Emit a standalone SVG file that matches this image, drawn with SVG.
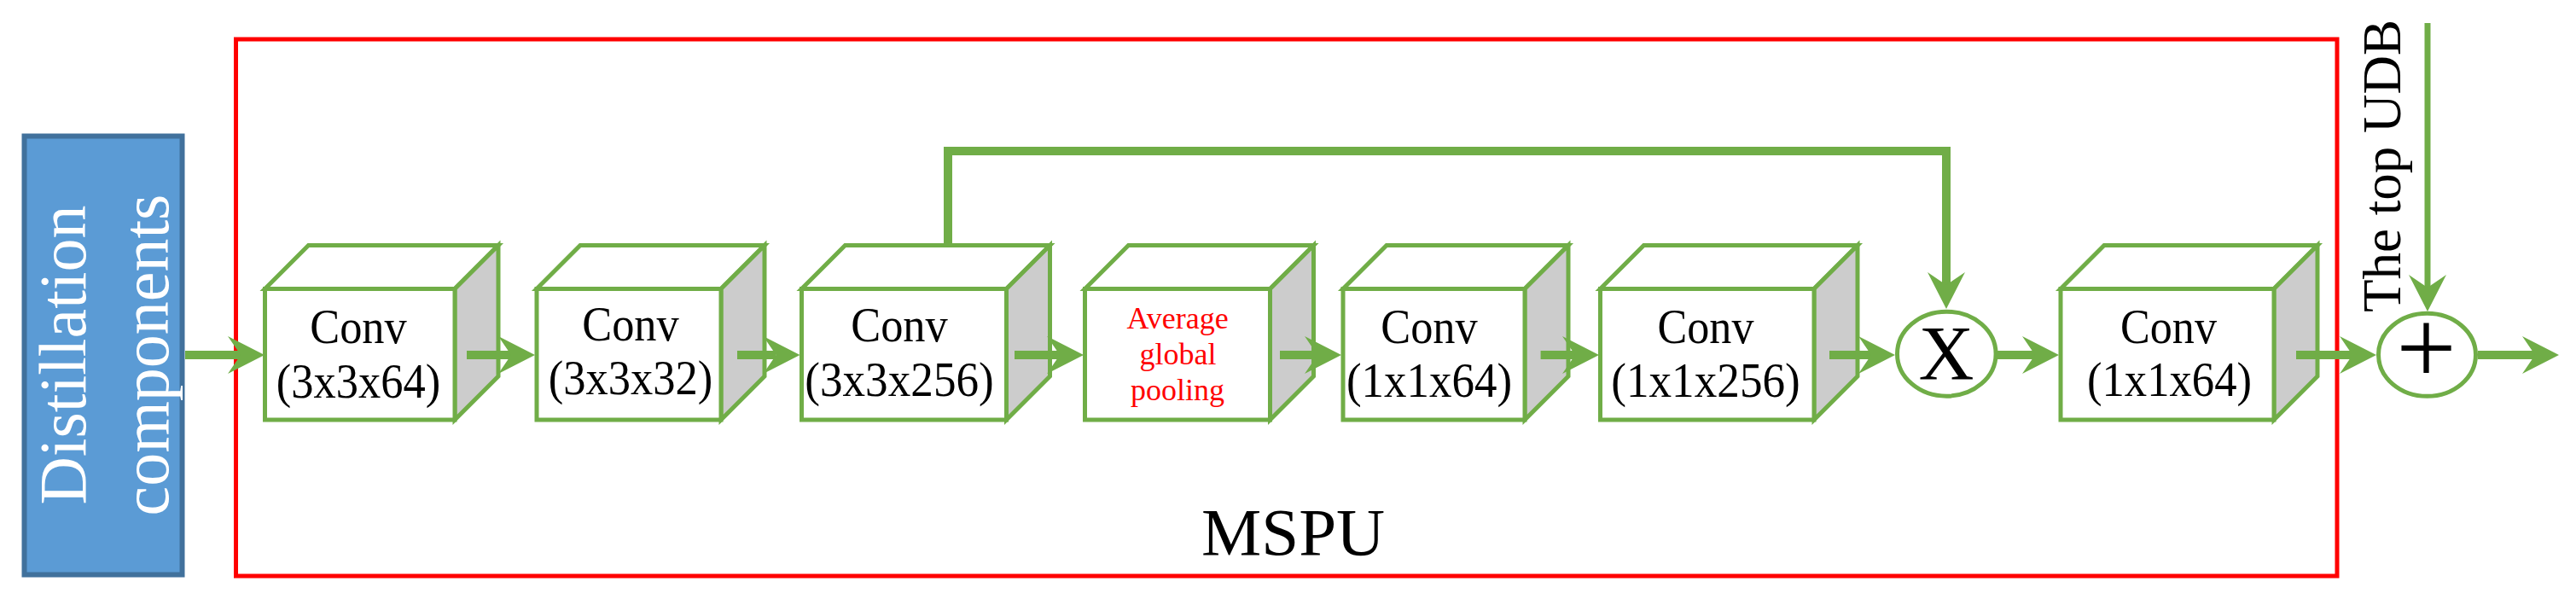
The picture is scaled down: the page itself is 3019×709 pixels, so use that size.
<svg xmlns="http://www.w3.org/2000/svg" width="3019" height="709" viewBox="0 0 3019 709">
<style>
.cube rect, .cube polygon{stroke:#70AD47;stroke-width:5;stroke-linejoin:miter}
.face{fill:#FFFFFF}
.side{fill:#CCCCCC}
.t{font-family:"Liberation Serif","Times New Roman",serif;fill:#000000;text-anchor:middle}
.conv{font-size:56px}
.red{font-family:"Liberation Serif","Times New Roman",serif;fill:#FF0000;text-anchor:middle;font-size:36px}
.conn{fill:none;stroke:#70AD47;stroke-width:10;marker-end:url(#ah)}
.op{fill:#FFFFFF;stroke:#70AD47;stroke-width:5}
</style>
<defs>
<marker id="ah" markerUnits="userSpaceOnUse" viewBox="-20 -30 60 60" markerWidth="60" markerHeight="60" refX="0" refY="0" orient="auto" overflow="visible">
<path d="M28,0 L-15,-22 L0,0 L-15,22 Z" fill="#70AD47"/>
</marker>
</defs>
<rect width="3019" height="709" fill="#FFFFFF"/>
<g id="mspu">
<rect x="276.5" y="46" width="2462.5" height="629" fill="none" stroke="#FF0000" stroke-width="5"/>
<text class="t" x="1515.6" y="650" font-size="79">MSPU</text>
</g>
<g id="distillation">
<rect x="28.5" y="159.5" width="185" height="514" fill="#5B9BD5" stroke="#41719C" stroke-width="6"/>
<text class="t" transform="translate(100,416) rotate(-90)" font-size="78" fill="#FFFFFF" style="fill:#FFFFFF">Distillation</text>
<text class="t" transform="translate(197,416) rotate(-90)" font-size="78" style="fill:#FFFFFF">components</text>
</g>
<g id="conv1" class="cube">
<polygon class="face" points="310.5,338.5 361.5,287.5 584,287.5 533,338.5"/>
<polygon class="side" points="533,338.5 584,287.5 584,441 533,492"/>
<rect class="face" x="310.5" y="338.5" width="222.5" height="153.5"/>
<text class="t conv" x="420" y="402" textLength="113.5" lengthAdjust="spacingAndGlyphs">Conv</text>
<text class="t conv" x="420" y="465.5" textLength="192.5" lengthAdjust="spacingAndGlyphs">(3x3x64)</text>
</g>
<g id="conv2" class="cube">
<polygon class="face" points="629,338.5 680,287.5 896,287.5 845,338.5"/>
<polygon class="side" points="845,338.5 896,287.5 896,441 845,492"/>
<rect class="face" x="629" y="338.5" width="216" height="153.5"/>
<text class="t conv" x="739" y="399" textLength="113.5" lengthAdjust="spacingAndGlyphs">Conv</text>
<text class="t conv" x="739" y="462" textLength="192.5" lengthAdjust="spacingAndGlyphs">(3x3x32)</text>
</g>
<g id="conv3" class="cube">
<polygon class="face" points="939.5,338.5 990.5,287.5 1230.5,287.5 1179.5,338.5"/>
<polygon class="side" points="1179.5,338.5 1230.5,287.5 1230.5,441 1179.5,492"/>
<rect class="face" x="939.5" y="338.5" width="240" height="153.5"/>
<text class="t conv" x="1054" y="400" textLength="113.5" lengthAdjust="spacingAndGlyphs">Conv</text>
<text class="t conv" x="1054" y="463.5" textLength="221.5" lengthAdjust="spacingAndGlyphs">(3x3x256)</text>
</g>
<g id="pooling" class="cube">
<polygon class="face" points="1271.5,338.5 1322.5,287.5 1539.5,287.5 1488.5,338.5"/>
<polygon class="side" points="1488.5,338.5 1539.5,287.5 1539.5,441 1488.5,492"/>
<rect class="face" x="1271.5" y="338.5" width="217" height="153.5"/>
<text class="red" x="1380" y="385">Average</text>
<text class="red" x="1380.5" y="427">global</text>
<text class="red" x="1380" y="469">pooling</text>
</g>
<g id="conv4" class="cube">
<polygon class="face" points="1574,338.5 1625,287.5 1838,287.5 1787,338.5"/>
<polygon class="side" points="1787,338.5 1838,287.5 1838,441 1787,492"/>
<rect class="face" x="1574" y="338.5" width="213" height="153.5"/>
<text class="t conv" x="1675" y="402" textLength="113.5" lengthAdjust="spacingAndGlyphs">Conv</text>
<text class="t conv" x="1675" y="465" textLength="194" lengthAdjust="spacingAndGlyphs">(1x1x64)</text>
</g>
<g id="conv5" class="cube">
<polygon class="face" points="1875.5,338.5 1926.5,287.5 2177,287.5 2126,338.5"/>
<polygon class="side" points="2126,338.5 2177,287.5 2177,441 2126,492"/>
<rect class="face" x="1875.5" y="338.5" width="250.5" height="153.5"/>
<text class="t conv" x="1999" y="402" textLength="113" lengthAdjust="spacingAndGlyphs">Conv</text>
<text class="t conv" x="1999" y="465" textLength="221.5" lengthAdjust="spacingAndGlyphs">(1x1x256)</text>
</g>
<g id="conv6" class="cube">
<polygon class="face" points="2415,338.5 2466,287.5 2716,287.5 2665,338.5"/>
<polygon class="side" points="2665,338.5 2716,287.5 2716,441 2665,492"/>
<rect class="face" x="2415" y="338.5" width="250" height="153.5"/>
<text class="t conv" x="2541.5" y="402" textLength="113" lengthAdjust="spacingAndGlyphs">Conv</text>
<text class="t conv" x="2542.5" y="464" textLength="193" lengthAdjust="spacingAndGlyphs">(1x1x64)</text>
</g>
<g id="multiply">
<ellipse class="op" cx="2281.3" cy="414.7" rx="57.8" ry="49.5"/>
<text class="t" x="2281" y="445" font-size="90">X</text>
</g>
<g id="add">
<ellipse class="op" cx="2844.5" cy="415.8" rx="57" ry="48.5"/>
<text class="t" x="2843.5" y="449" font-size="125">+</text>
</g>
<g id="top-udb">
<text class="t" transform="translate(2813,366) rotate(-90)" font-size="63" style="text-anchor:start">The top UDB</text>
</g>
<g id="connectors">
<path class="conn" d="M217,416 H282"/>
<path class="conn" d="M547,416 H599"/>
<path class="conn" d="M864,416 H909.5"/>
<path class="conn" d="M1189,416 H1242"/>
<path class="conn" d="M1500,416 H1544"/>
<path class="conn" d="M1805.6,416 H1846"/>
<path class="conn" d="M2144,416 H2193"/>
<path class="conn" d="M2341,416 H2385"/>
<path class="conn" d="M2691,416 H2757"/>
<path class="conn" d="M2904,416 H2971"/>
<path class="conn" d="M1111,287 V177 H2281 V334"/>
<path class="conn" style="stroke-width:7" d="M2845,27 V337"/>
</g>
</svg>
